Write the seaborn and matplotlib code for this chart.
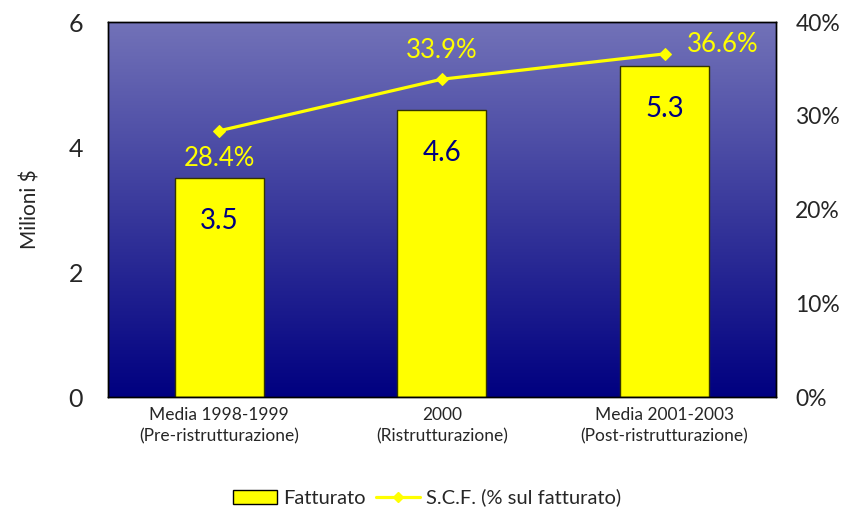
import numpy as np
import pandas as pd
import matplotlib
matplotlib.use("Agg")
import matplotlib.pyplot as plt
import seaborn as sns
from matplotlib.colors import LinearSegmentedColormap
from matplotlib.lines import Line2D
from matplotlib.patches import Patch

# ==============================
# DATA
# ==============================

categories = [
    "Media 1998-1999\n(Pre-ristrutturazione)",
    "2000\n(Ristrutturazione)",
    "Media 2001-2003\n(Post-ristrutturazione)",
]
fatturato = [3.5, 4.6, 5.3]
scf_pct = [28.4, 33.9, 36.6]
left_ticks = [0, 2, 4, 6]
right_ticks = [0, 10, 20, 30, 40]

df = pd.DataFrame({"Categoria": categories, "Fatturato": fatturato, "SCF": scf_pct})
df["pos"] = range(len(df))

# ==============================
# PLOT
# ==============================

sns.set_style("white")
plt.rcParams["font.family"] = ["Lato", "DejaVu Sans"]

fig = plt.figure(figsize=(8.54, 5.12), dpi=100)
ax = fig.add_axes([0.1265, 0.2246, 0.782, 0.7324])

# gradient background
grad = LinearSegmentedColormap.from_list("bg", ["#000080", "#7272b8"])
ax.imshow(np.linspace(0, 1, 256).reshape(-1, 1), aspect="auto", cmap=grad,
          origin="lower", extent=[0, 1, 0, 1], transform=ax.transAxes, zorder=0)

sns.barplot(data=df, x="Categoria", y="Fatturato", color="#ffff00", saturation=1,
            width=0.4, edgecolor="#333300", linewidth=1, ax=ax, zorder=2)
ax.set_xlim(-0.5, 2.5)
ax.set_ylim(0, 6)
ax.set_yticks(left_ticks)
ax.set_yticklabels([str(t) for t in left_ticks], fontsize=18)
ax.set_xlabel("")
ax.set_ylabel("Milioni $", fontsize=15, labelpad=20)
ax.tick_params(axis="x", length=0, labelsize=12.5, pad=7)
for lbl in ax.get_xticklabels():
    lbl.set_linespacing(1.45)
ax.tick_params(axis="y", length=0, pad=18)

for i, v in enumerate(fatturato):
    ax.annotate(f"{v}", (i, v), xytext=(0, -31), textcoords="offset points",
                ha="center", va="center", fontsize=20, color="#000080", zorder=5)

ax2 = ax.twinx()
ax2.set_zorder(ax.get_zorder() + 1)
sns.lineplot(data=df, x="pos", y="SCF", color="#ffff00", linewidth=2.3,
             marker="D", markersize=6, markeredgecolor="#ffff00", ax=ax2)
ax2.set_ylim(0, 40)
ax2.set_yticks(right_ticks)
ax2.set_yticklabels([f"{t}%" for t in right_ticks], fontsize=16.5)
ax2.set_ylabel("")
ax2.set_xlabel("")
ax2.tick_params(axis="y", length=0, pad=14)

offsets = [(0, -20), (0, 21), (42, 7)]
for i, (v, off) in enumerate(zip(scf_pct, offsets)):
    ax2.annotate(f"{v}%", (i, v), xytext=off, textcoords="offset points",
                 ha="center", va="center", fontsize=18.5, color="#ffff00")

for a in (ax, ax2):
    for s in a.spines.values():
        s.set_color("black")
        s.set_linewidth(1)

handles = [
    Patch(facecolor="#ffff00", edgecolor="black", label="Fatturato"),
    Line2D([0], [0], color="#ffff00", linewidth=2.3, marker="D", markersize=5,
           label="S.C.F. (% sul fatturato)"),
]
fig.legend(handles=handles, loc="center", bbox_to_anchor=(0.5, 0.028), ncol=2,
           frameon=False, fontsize=14.5, handlelength=2.2, columnspacing=0.5,
           handletextpad=0.3)

plt.savefig("out.png", dpi=100)
